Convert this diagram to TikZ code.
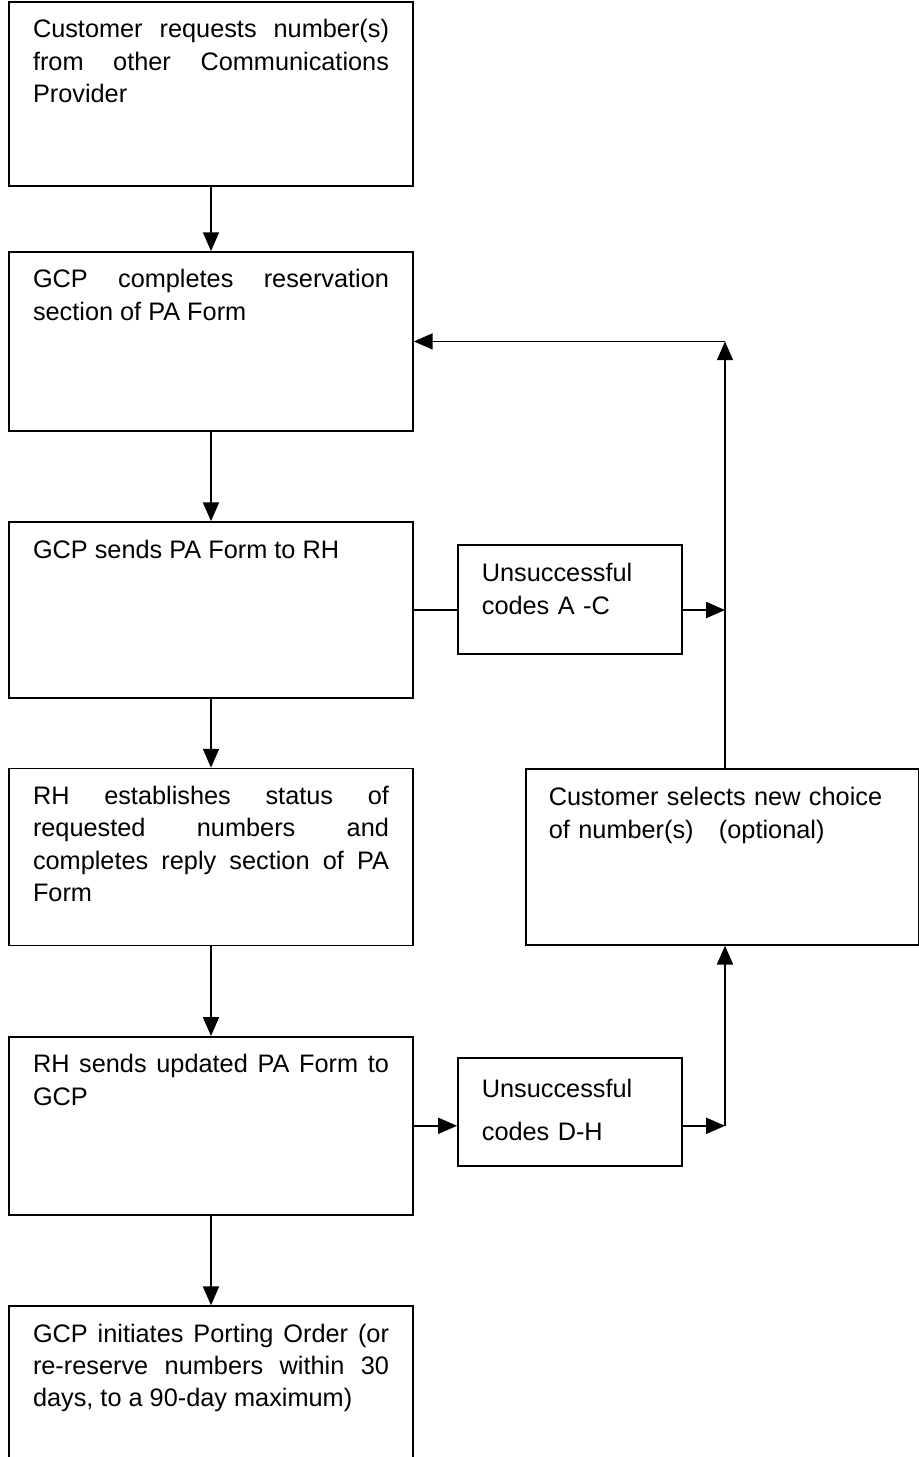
\documentclass[tikz,border=0pt]{standalone}
\usepackage{fontspec}
\setmainfont{Liberation Sans}
\usetikzlibrary{positioning}
\usetikzlibrary{arrows.meta}
\hyphenpenalty=10000

\tikzset{
	procbox/.style={draw, text width=8.9cm, inner xsep=0.6cm, inner ysep=0pt, align=justify, text height=0.9cm, text depth=#1},
	codebox/.style={draw, text width=4.4cm, inner xsep=0.6cm, inner ysep=0pt, align=left, anchor=north west, text height=0.925cm, text depth=#1}
}

\begin{document}
\begin{tikzpicture}[line width=1.2pt, >={Triangle[length=0.47cm,width=0.4cm]}, every node/.style={font=\fontsize{18}{23}\selectfont}]

				    \useasboundingbox (0,0) rectangle (22.975,-36.425);

				    % Place nodes
				    \node [procbox=3.7cm, anchor=north] (request) at (5.275,-0.025) {Customer requests number(s)\linebreak from other Communications\linebreak Provider};
				    \node [procbox=3.575cm, below=1.61cm of request] (reserve) {GCP completes reservation\linebreak section of PA Form};
				    \node [procbox=3.5cm, below=2.235cm of reserve] (send) {GCP sends PA Form to RH};
				    \node [procbox=3.525cm, below=1.72cm of send] (status) {RH establishes status of\linebreak requested numbers and\linebreak completes reply section of PA\linebreak Form};
				    \node [procbox=3.55cm, below=2.24cm of status] (update) {RH sends updated PA Form to\linebreak GCP};
				    \node [procbox=3.575cm, below=2.24cm of update] (porting) {GCP initiates Porting Order (or\linebreak re-reserve numbers within 30\linebreak days, to a 90-day maximum)};

				    \node [codebox=1.8cm] (failAC) at (11.425,-13.6) {Unsuccessful\\codes A -C};
				    \node [codebox=1.7cm, text height=1cm] (failDH) at (11.425,-26.425) {Unsuccessful\\[7pt]codes D-H};
				    \node [codebox=3.475cm, text width=8.675cm, inner xsep=0.575cm] (select) at (13.125,-19.2) {Customer selects new choice\\of number(s)\ \ \ (optional)};

				    \coordinate (loop) at (18.125,0);

					% Main flow
					\foreach \a/\b in {request/reserve, reserve/send, send/status, status/update, update/porting}
						\draw [->] (\a.south) -- (\b.north);

					% Side branches
					\draw (send.east) -- (send.east -| failAC.west);
					\draw [->] (send.east -| failAC.east) -- (send.east -| loop);
					\draw [->] (update.east) -- (update.east -| failDH.west);
					\draw [->] (update.east -| failDH.east) -- (update.east -| loop);
					\draw [->] (update.east -| loop) -- (select.south -| loop);
					\draw [->] (select.north -| loop) -- (reserve.east -| loop);
					\draw [->] (reserve.east -| loop) -- (reserve.east);

				\end{tikzpicture}
\end{document}
